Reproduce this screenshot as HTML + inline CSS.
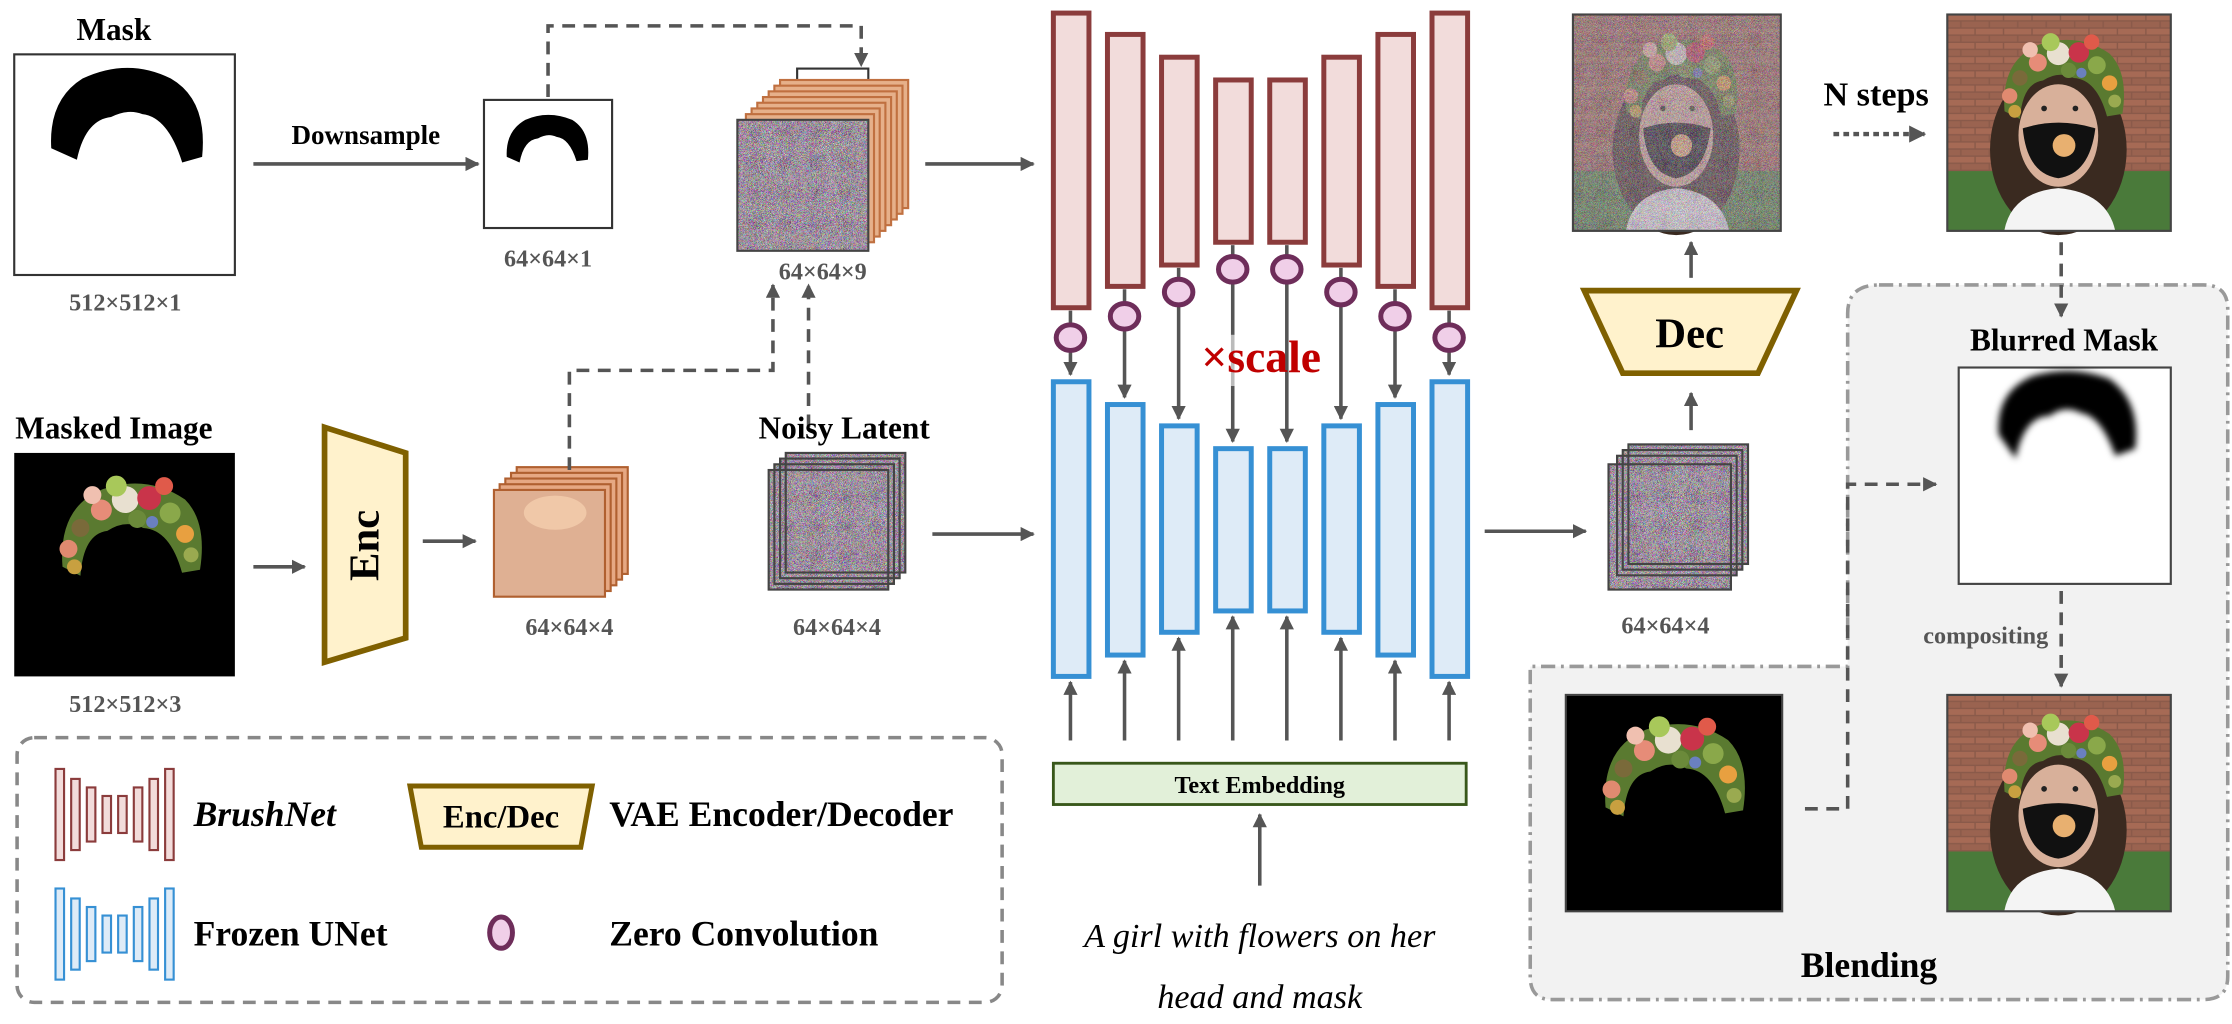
<!DOCTYPE html>
<html><head><meta charset="utf-8"><style>html,body{margin:0;padding:0;background:#fff}svg{display:block}</style></head>
<body>
<svg width="2232" height="1024" viewBox="0 0 1568 719" xmlns="http://www.w3.org/2000/svg" font-family="Liberation Serif, serif" font-weight="bold">
<defs>
<marker id="ah" viewBox="0 0 10 10" refX="9" refY="5" markerWidth="4" markerHeight="4" orient="auto"><path d="M0,0L10,5L0,10z" fill="#555"/></marker>
<filter id="noise" x="0" y="0" width="100%" height="100%"><feTurbulence type="turbulence" baseFrequency="1.4" numOctaves="1" seed="3"/><feColorMatrix type="matrix" values="1.6 0 0 0 0.1  0 1.6 0 0 0.05  0 0 1.6 0 0.1  0 0 0 0 1"/></filter>
<filter id="blur"><feGaussianBlur stdDeviation="2.5"/></filter>
<pattern id="brick" width="20" height="10" patternUnits="userSpaceOnUse"><rect width="20" height="10" fill="#8a5a4a"/><rect x="0" y="0" width="19" height="4" fill="#a66a55"/><rect x="10" y="5" width="19" height="4" fill="#9a6350"/><rect x="-10" y="5" width="19" height="4" fill="#9a6350"/></pattern>
<g id="crown"><path d="M-42,40 Q-45,0 -15,-12 Q15,-22 40,-5 Q55,10 50,42 L38,44 Q30,15 12,14 Q0,8 -12,16 Q-28,18 -30,46z" fill="#5a7a30"/><circle cx="0" cy="-5" r="9" fill="#e8e0d0"/><circle cx="16" cy="-6" r="8" fill="#c9344a"/><circle cx="-16" cy="2" r="7" fill="#e68c78"/><circle cx="30" cy="4" r="7" fill="#8aa84a"/><circle cx="-6" cy="-14" r="7" fill="#a8c85a"/><circle cx="8" cy="8" r="6" fill="#6b8a3a"/><circle cx="-30" cy="14" r="6" fill="#7a6a3a"/><circle cx="40" cy="18" r="6" fill="#e8a040"/><circle cx="-38" cy="28" r="6" fill="#e08a70"/><circle cx="44" cy="32" r="5" fill="#9aaa50"/><circle cx="-22" cy="-8" r="6" fill="#f0c0b0"/><circle cx="26" cy="-14" r="6" fill="#e05a4a"/><circle cx="-34" cy="40" r="5" fill="#c8a040"/><circle cx="18" cy="10" r="4" fill="#6a80c0"/></g>
<g id="face"><rect width="157" height="152" fill="url(#brick)"/><rect y="110" width="157" height="42" fill="#4a7a3a"/><ellipse cx="78" cy="95" rx="48" ry="60" fill="#3a2a20"/><ellipse cx="78" cy="85" rx="28" ry="36" fill="#d8b09a"/><path d="M40,152 Q45,125 78,122 Q112,125 118,152z" fill="#f4f4f4"/><path d="M53,80 Q78,72 104,80 Q100,112 78,115 Q56,112 53,80z" fill="#111"/><circle cx="82" cy="92" r="8" fill="#e8b070"/><use href="#crown" transform="translate(78,32) scale(0.9)"/><circle cx="68" cy="66" r="2" fill="#222"/><circle cx="90" cy="66" r="2" fill="#222"/></g>
</defs>

<!-- Mask -->
<text x="80" y="28" font-size="22" text-anchor="middle">Mask</text>
<rect x="10" y="38" width="155" height="155" fill="#fff" stroke="#333" stroke-width="1.5"/>
<path d="M36,104 Q34,70 58,55 Q90,40 120,55 Q146,70 142,110 L128,114 Q118,82 100,80 Q90,76 78,82 Q60,84 54,112z" fill="#000"/>
<text x="88" y="218" font-size="17" fill="#555" text-anchor="middle">512×512×1</text>
<text x="257" y="101" font-size="19" text-anchor="middle">Downsample</text>
<line x1="178" y1="115" x2="336" y2="115" stroke="#555" stroke-width="2.5" marker-end="url(#ah)"/>
<rect x="340" y="70" width="90" height="90" fill="#fff" stroke="#333" stroke-width="1.5"/>
<path d="M356,110 Q355,92 369,84 Q385,77 402,84 Q415,92 413,112 L405,113 Q400,97 391,96 Q385,93 378,97 Q368,98 365,114z" fill="#000"/>
<text x="385" y="187" font-size="17" fill="#555" text-anchor="middle">64×64×1</text>
<path d="M385,68 V18 H605 V46" fill="none" stroke="#555" stroke-width="2.5" stroke-dasharray="9,6" marker-end="url(#ah)"/>

<!-- 64x64x9 stack -->
<g stroke="#c07040" stroke-width="1.5">
<rect x="560" y="48" width="50" height="90" fill="#fff" stroke="#333"/>
<rect x="548" y="56" width="90" height="90" fill="#e6b08a"/>
<rect x="544" y="60" width="90" height="90" fill="#e6b08a"/>
<rect x="540" y="64" width="90" height="90" fill="#e6b08a"/>
<rect x="536" y="68" width="90" height="90" fill="#e6b08a"/>
<rect x="532" y="72" width="90" height="90" fill="#e6b08a"/>
<rect x="528" y="76" width="90" height="90" fill="#e6b08a"/>
<rect x="524" y="80" width="90" height="90" fill="#e6b08a"/>
</g>
<rect x="518" y="84" width="92" height="92" fill="#888" filter="url(#noise)"/>
<rect x="518" y="84" width="92" height="92" fill="none" stroke="#444" stroke-width="1.5"/>
<text x="578" y="196" font-size="17" fill="#555" text-anchor="middle">64×64×9</text>
<line x1="650" y1="115" x2="726" y2="115" stroke="#555" stroke-width="2.5" marker-end="url(#ah)"/>

<!-- Masked image -->
<text x="80" y="308" font-size="22" text-anchor="middle">Masked Image</text>
<rect x="10" y="318" width="155" height="157" fill="#000"/>
<use href="#crown" transform="translate(88,356) scale(1.05)"/>
<text x="88" y="500" font-size="17" fill="#555" text-anchor="middle">512×512×3</text>
<line x1="178" y1="398" x2="214" y2="398" stroke="#555" stroke-width="2.5" marker-end="url(#ah)"/>
<path d="M228,300 L285,318 L285,448 L228,465z" fill="#fff2cc" stroke="#7f6000" stroke-width="4"/>
<text x="0" y="0" font-size="30" text-anchor="middle" transform="translate(266,383) rotate(-90)">Enc</text>
<line x1="297" y1="380" x2="334" y2="380" stroke="#555" stroke-width="2.5" marker-end="url(#ah)"/>
<g stroke="#b06030" stroke-width="1.5" fill="#e6a883">
<rect x="363" y="328" width="78" height="75"/><rect x="359" y="332" width="78" height="75"/><rect x="355" y="336" width="78" height="75"/><rect x="351" y="340" width="78" height="75"/>
<rect x="347" y="344" width="78" height="75" fill="#dfb093"/></g>
<ellipse cx="390" cy="360" rx="22" ry="12" fill="#f0c8a8"/>
<text x="400" y="446" font-size="17" fill="#555" text-anchor="middle">64×64×4</text>
<path d="M400,330 V260 H543 V200" fill="none" stroke="#555" stroke-width="2.5" stroke-dasharray="9,6" marker-end="url(#ah)"/>
<path d="M568,300 V200" fill="none" stroke="#555" stroke-width="2.5" stroke-dasharray="9,6" marker-end="url(#ah)"/>

<!-- Noisy Latent -->
<text x="593" y="308" font-size="22" text-anchor="middle">Noisy Latent</text>
<g fill="#888">
<rect x="552" y="318" width="84" height="84" filter="url(#noise)"/><rect x="548" y="322" width="84" height="84" filter="url(#noise)"/><rect x="544" y="326" width="84" height="84" filter="url(#noise)"/><rect x="540" y="330" width="84" height="84" filter="url(#noise)"/></g>
<g fill="none" stroke="#444" stroke-width="1.5"><rect x="552" y="318" width="84" height="84"/><rect x="548" y="322" width="84" height="84"/><rect x="544" y="326" width="84" height="84"/><rect x="540" y="330" width="84" height="84"/></g>
<text x="588" y="446" font-size="17" fill="#555" text-anchor="middle">64×64×4</text>
<line x1="655" y1="375" x2="726" y2="375" stroke="#555" stroke-width="2.5" marker-end="url(#ah)"/>

<!-- BrushNet & UNet columns -->
<g stroke-width="3.5">
<g fill="#f2dcdb" stroke="#8b3c3c">
<rect x="740" y="9" width="25" height="207"/><rect x="778" y="24" width="25" height="177"/><rect x="816" y="40" width="25" height="146"/><rect x="854" y="56" width="25" height="114"/><rect x="892" y="56" width="25" height="114"/><rect x="930" y="40" width="25" height="146"/><rect x="968" y="24" width="25" height="177"/><rect x="1006" y="9" width="25" height="207"/></g>
<g fill="#deebf7" stroke="#3690d4">
<rect x="740" y="268" width="25" height="207"/><rect x="778" y="284" width="25" height="176"/><rect x="816" y="299" width="25" height="145"/><rect x="854" y="315" width="25" height="114"/><rect x="892" y="315" width="25" height="114"/><rect x="930" y="299" width="25" height="145"/><rect x="968" y="284" width="25" height="176"/><rect x="1006" y="268" width="25" height="207"/></g>
</g>
<g stroke="#555" stroke-width="2.5" marker-end="url(#ah)">
<line x1="752" y1="218" x2="752" y2="263"/><line x1="790" y1="203" x2="790" y2="279"/><line x1="828" y1="188" x2="828" y2="294"/><line x1="866" y1="172" x2="866" y2="310"/><line x1="904" y1="172" x2="904" y2="310"/><line x1="942" y1="188" x2="942" y2="294"/><line x1="980" y1="203" x2="980" y2="279"/><line x1="1018" y1="218" x2="1018" y2="263"/>
<line x1="752" y1="520" x2="752" y2="479"/><line x1="790" y1="520" x2="790" y2="464"/><line x1="828" y1="520" x2="828" y2="448"/><line x1="866" y1="520" x2="866" y2="433"/><line x1="904" y1="520" x2="904" y2="433"/><line x1="942" y1="520" x2="942" y2="448"/><line x1="980" y1="520" x2="980" y2="464"/><line x1="1018" y1="520" x2="1018" y2="479"/>
</g>
<g fill="#f0cfe8" stroke="#6e2d5a" stroke-width="3.5">
<ellipse cx="752" cy="237" rx="10" ry="9"/><ellipse cx="790" cy="222" rx="10" ry="9"/><ellipse cx="828" cy="205" rx="10" ry="9"/><ellipse cx="866" cy="189" rx="10" ry="9"/><ellipse cx="904" cy="189" rx="10" ry="9"/><ellipse cx="942" cy="205" rx="10" ry="9"/><ellipse cx="980" cy="222" rx="10" ry="9"/><ellipse cx="1018" cy="237" rx="10" ry="9"/></g>
<rect x="860" y="235" width="12" height="36" fill="#fff" opacity="0.6"/>
<text x="886" y="261" font-size="32" fill="#c00000" text-anchor="middle">×scale</text>
<rect x="740" y="536" width="290" height="29" fill="#e2f0d9" stroke="#38571a" stroke-width="2"/>
<text x="885" y="557" font-size="17" text-anchor="middle">Text Embedding</text>
<line x1="885" y1="622" x2="885" y2="572" stroke="#555" stroke-width="2.5" marker-end="url(#ah)"/>
<text x="885" y="665" font-size="24" font-weight="normal" font-style="italic" text-anchor="middle">A girl with flowers on her</text>
<text x="885" y="708" font-size="24" font-weight="normal" font-style="italic" text-anchor="middle">head and mask</text>

<!-- Right side -->
<line x1="1043" y1="373" x2="1114" y2="373" stroke="#555" stroke-width="2.5" marker-end="url(#ah)"/>
<g fill="#8a8a8a">
<rect x="1144" y="312" width="84" height="84" filter="url(#noise)"/><rect x="1140" y="316" width="84" height="84" filter="url(#noise)"/><rect x="1136" y="320" width="84" height="84" filter="url(#noise)"/><rect x="1130" y="326" width="86" height="88" filter="url(#noise)"/></g>
<g fill="none" stroke="#444" stroke-width="1.5"><rect x="1144" y="312" width="84" height="84"/><rect x="1140" y="316" width="84" height="84"/><rect x="1136" y="320" width="84" height="84"/><rect x="1130" y="326" width="86" height="88"/></g>
<text x="1170" y="445" font-size="17" fill="#555" text-anchor="middle">64×64×4</text>
<line x1="1188" y1="302" x2="1188" y2="276" stroke="#555" stroke-width="2.5" marker-end="url(#ah)"/>
<path d="M1113,204 L1262,204 L1235,262 L1140,262z" fill="#fff2cc" stroke="#7f6000" stroke-width="4"/>
<text x="1187" y="244" font-size="30" text-anchor="middle">Dec</text>
<line x1="1188" y1="195" x2="1188" y2="170" stroke="#555" stroke-width="2.5" marker-end="url(#ah)"/>
<g transform="translate(1105,10) scale(0.93,1)"><use href="#face"/></g>
<rect x="1105" y="10" width="146" height="152" fill="#999" opacity="0.6" filter="url(#noise)"/>
<rect x="1105" y="10" width="146" height="152" fill="none" stroke="#444" stroke-width="1.5"/>
<text x="1318" y="74" font-size="24" text-anchor="middle">N steps</text>
<line x1="1288" y1="94" x2="1352" y2="94" stroke="#555" stroke-width="3" stroke-dasharray="4,3" marker-end="url(#ah)"/>
<use href="#face" x="1368" y="10"/>
<rect x="1368" y="10" width="157" height="152" fill="none" stroke="#444" stroke-width="1.5"/>

<!-- Blending region -->
<path d="M1320,200 H1548 Q1565,200 1565,217 V686 Q1565,702 1548,702 H1090 Q1075,702 1075,686 V468 H1298 V220 Q1298,200 1320,200z" fill="#f2f2f2" stroke="#999" stroke-width="2.5" stroke-dasharray="10,4,2,4"/>
<line x1="1448" y1="170" x2="1448" y2="222" stroke="#555" stroke-width="2.5" stroke-dasharray="9,6" marker-end="url(#ah)"/>
<text x="1450" y="246" font-size="22" text-anchor="middle">Blurred Mask</text>
<rect x="1376" y="258" width="149" height="152" fill="#fff" stroke="#444" stroke-width="1.5"/>
<path d="M1404,305 Q1402,275 1428,264 Q1455,256 1482,266 Q1504,282 1500,315 L1486,320 Q1476,292 1462,290 Q1450,284 1440,292 Q1422,292 1416,322z" fill="#000" filter="url(#blur)"/>
<text x="1395" y="452" font-size="17" fill="#555" text-anchor="middle">compositing</text>
<line x1="1448" y1="415" x2="1448" y2="482" stroke="#555" stroke-width="2.5" stroke-dasharray="9,6" marker-end="url(#ah)"/>
<rect x="1100" y="488" width="152" height="152" fill="#000" stroke="#444" stroke-width="1.5"/>
<use href="#crown" transform="translate(1172,525) scale(1.05)"/>
<use href="#face" x="1368" y="488"/>
<rect x="1368" y="488" width="157" height="152" fill="none" stroke="#444" stroke-width="1.5"/>
<path d="M1268,568 H1298 V340 H1360" fill="none" stroke="#555" stroke-width="2.5" stroke-dasharray="9,6" marker-end="url(#ah)"/>
<text x="1313" y="686" font-size="25" text-anchor="middle">Blending</text>

<!-- Legend -->
<rect x="12" y="518" width="692" height="186" rx="12" fill="none" stroke="#888" stroke-width="2.5" stroke-dasharray="9,6"/>
<g stroke-width="1.5">
<g fill="#f2dcdb" stroke="#8b3c3c"><rect x="39" y="540" width="6" height="64"/><rect x="50" y="547" width="6" height="50"/><rect x="61" y="553" width="6" height="38"/><rect x="72" y="559" width="6" height="26"/><rect x="83" y="559" width="6" height="26"/><rect x="94" y="553" width="6" height="38"/><rect x="105" y="547" width="6" height="50"/><rect x="116" y="540" width="6" height="64"/></g>
<g fill="#deebf7" stroke="#3690d4"><rect x="39" y="624" width="6" height="64"/><rect x="50" y="631" width="6" height="50"/><rect x="61" y="637" width="6" height="38"/><rect x="72" y="643" width="6" height="26"/><rect x="83" y="643" width="6" height="26"/><rect x="94" y="637" width="6" height="38"/><rect x="105" y="631" width="6" height="50"/><rect x="116" y="624" width="6" height="64"/></g>
</g>
<text x="136" y="580" font-size="25" font-style="italic">BrushNet</text>
<path d="M288,552 L416,552 L408,595 L296,595z" fill="#fff2cc" stroke="#7f6000" stroke-width="3.5"/>
<text x="352" y="581" font-size="23" text-anchor="middle">Enc/Dec</text>
<text x="428" y="580" font-size="25">VAE Encoder/Decoder</text>
<text x="136" y="664" font-size="25">Frozen UNet</text>
<ellipse cx="352" cy="655" rx="8" ry="11" fill="#f0cfe8" stroke="#6e2d5a" stroke-width="3.5"/>
<text x="428" y="664" font-size="25">Zero Convolution</text>
</svg>
</body></html>
